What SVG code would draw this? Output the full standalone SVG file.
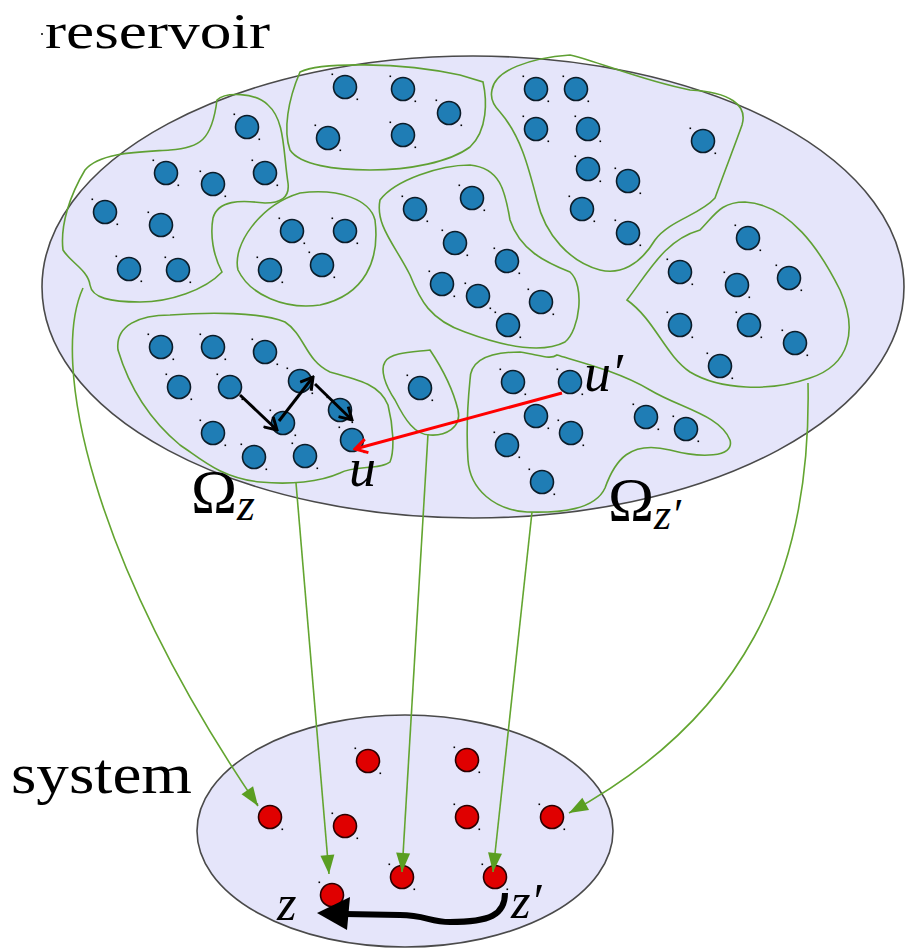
<svg xmlns="http://www.w3.org/2000/svg" xmlns:xlink="http://www.w3.org/1999/xlink" width="905" height="950" viewBox="0 0 905 950">
<style>
.ell{fill:#e5e5fa;stroke:#4a4a4a;stroke-width:1.6}
.cl{fill:none;stroke:#5fa033;stroke-width:1.6}
.con{fill:none;stroke:#63a530;stroke-width:1.6}
.lbl{font-family:"Liberation Serif","DejaVu Serif",serif;fill:#000}
.it{font-style:italic}
</style>
<defs>
<g id="b">
<circle r="11.5" fill="#1f7db5" stroke="#0c1c28" stroke-width="1.6"/>
<rect x="-13.5" y="-13.5" width="1.6" height="1.6" fill="#000"/>
<rect x="11.5" y="11.5" width="1.6" height="1.6" fill="#000"/>
</g>
<g id="r">
<circle r="11.5" fill="#e00000" stroke="#2a0000" stroke-width="1.6"/>
<rect x="-13.5" y="-13.5" width="1.6" height="1.6" fill="#000"/>
<rect x="11.5" y="11.5" width="1.6" height="1.6" fill="#000"/>
</g>
<marker id="ga" markerUnits="userSpaceOnUse" markerWidth="22" markerHeight="16" viewBox="-20 -8 22 16" refX="0" refY="0" orient="auto">
<path d="M0,0 L-19,-7 L-19,7 Z" fill="#5a9e22"/>
</marker>
<marker id="ka" markerUnits="userSpaceOnUse" markerWidth="16" markerHeight="16" viewBox="-14 -8 16 16" refX="0" refY="0" orient="auto">
<path d="M-12,-7 L0,0 L-12,7" fill="none" stroke="#000" stroke-width="3"/>
</marker>
<marker id="ra" markerUnits="userSpaceOnUse" markerWidth="16" markerHeight="16" viewBox="-14 -8 16 16" refX="0" refY="0" orient="auto">
<path d="M-12,-7 L0,0 L-12,7" fill="none" stroke="#ff0000" stroke-width="3"/>
</marker>
</defs>
<rect width="905" height="950" fill="#fff"/>

<g id="reservoir">
<ellipse class="ell" cx="473" cy="287" rx="431" ry="231"/>
<text class="lbl" x="45" y="48" font-size="51" textLength="225" lengthAdjust="spacingAndGlyphs">reservoir</text>
<circle cx="42" cy="34" r="1" fill="#000"/>
</g>

<g id="system">
<ellipse class="ell" cx="405" cy="831" rx="208" ry="116"/>
<text class="lbl" x="11" y="793" font-size="56" textLength="181" lengthAdjust="spacingAndGlyphs">system</text>
</g>

<g id="clusterA">
<path class="cl" d="M217,100 C225,92 255,92 268,105 C285,120 283,150 288,183 C290,198 280,203 265,203 C240,200 218,200 213,218 C210,235 213,255 222,272 C205,290 170,302 140,302 C110,302 92,298 90,285 C88,270 70,262 63,250 C60,225 70,195 85,170 C100,152 140,152 170,150 C200,148 212,140 217,100 Z"/>
<use xlink:href="#b" x="247" y="127"/><use xlink:href="#b" x="166" y="173"/><use xlink:href="#b" x="213" y="184"/><use xlink:href="#b" x="265" y="173"/><use xlink:href="#b" x="105" y="212"/><use xlink:href="#b" x="161" y="225"/><use xlink:href="#b" x="129" y="269"/><use xlink:href="#b" x="178" y="270"/>
</g>
<g id="clusterB">
<path class="cl" d="M300,72 C320,62 400,62 460,75 L483,82 C487,100 488,130 470,147 C450,162 410,170 370,170 C335,170 300,165 290,150 C283,130 288,100 300,72 Z"/>
<use xlink:href="#b" x="345" y="87"/><use xlink:href="#b" x="403" y="89"/><use xlink:href="#b" x="449" y="113"/><use xlink:href="#b" x="328" y="138"/><use xlink:href="#b" x="403" y="135"/>
</g>
<g id="clusterC">
<path class="cl" d="M300,193 C340,188 370,200 375,220 C380,260 365,295 320,305 C285,310 250,295 238,270 C232,245 260,205 300,193 Z"/>
<use xlink:href="#b" x="292" y="231"/><use xlink:href="#b" x="345" y="231"/><use xlink:href="#b" x="270" y="270"/><use xlink:href="#b" x="322" y="265"/>
</g>
<g id="clusterD">
<path class="cl" d="M380,200 C395,180 440,165 470,165 C500,168 505,190 510,220 C520,250 545,262 570,272 C585,285 580,330 565,342 C540,355 500,345 465,332 C430,320 420,300 410,275 C395,245 375,225 380,200 Z"/>
<use xlink:href="#b" x="415" y="209"/><use xlink:href="#b" x="472" y="198"/><use xlink:href="#b" x="455" y="243"/><use xlink:href="#b" x="507" y="261"/><use xlink:href="#b" x="442" y="284"/><use xlink:href="#b" x="478" y="296"/><use xlink:href="#b" x="541" y="302"/><use xlink:href="#b" x="508" y="325"/>
</g>
<g id="clusterE">
<path class="cl" d="M492,90 C495,70 530,58 570,55 C600,62 640,80 690,90 C730,92 748,105 742,125 C735,145 725,170 715,198 C700,215 670,220 655,240 C640,265 620,275 600,270 C570,262 545,235 537,200 C528,165 520,135 500,112 C493,105 490,98 492,90 Z"/>
<use xlink:href="#b" x="536" y="89"/><use xlink:href="#b" x="576" y="89"/><use xlink:href="#b" x="536" y="129"/><use xlink:href="#b" x="588" y="129"/><use xlink:href="#b" x="588" y="169"/><use xlink:href="#b" x="628" y="181"/><use xlink:href="#b" x="582" y="209"/><use xlink:href="#b" x="628" y="233"/><use xlink:href="#b" x="703" y="141"/>
</g>
<g id="clusterF">
<path class="cl" d="M627,300 C650,270 665,240 700,230 C715,215 720,202 745,202 C790,205 820,250 840,290 C858,330 850,365 810,378 C770,392 720,390 690,372 C665,355 655,320 627,300 Z"/>
<use xlink:href="#b" x="748" y="238"/><use xlink:href="#b" x="680" y="272"/><use xlink:href="#b" x="737" y="285"/><use xlink:href="#b" x="789" y="278"/><use xlink:href="#b" x="680" y="325"/><use xlink:href="#b" x="749" y="325"/><use xlink:href="#b" x="795" y="343"/><use xlink:href="#b" x="720" y="366"/>
</g>
<g id="clusterG">
<path class="cl" d="M118,350 C115,325 140,315 170,315 C210,312 260,312 285,322 C305,335 305,360 330,372 C360,380 380,385 388,405 C393,425 395,450 390,462 C380,470 355,465 340,473 C320,482 290,485 260,482 C220,478 200,458 180,445 C150,420 130,390 118,350 Z"/>
<use xlink:href="#b" x="161" y="347"/><use xlink:href="#b" x="213" y="347"/><use xlink:href="#b" x="265" y="352"/><use xlink:href="#b" x="179" y="387"/><use xlink:href="#b" x="230" y="387"/><use xlink:href="#b" x="300" y="381"/><use xlink:href="#b" x="283" y="423"/><use xlink:href="#b" x="340" y="410"/><use xlink:href="#b" x="213" y="433"/><use xlink:href="#b" x="254" y="457"/><use xlink:href="#b" x="305" y="456"/><use xlink:href="#b" x="352" y="440"/>
<text class="lbl" x="191" y="512" font-size="62">Ω<tspan class="it" font-size="46" dy="8">z</tspan></text>
<text class="lbl it" x="349" y="486" font-size="54">u</text>
</g>
<g id="clusterH">
<path class="cl" d="M385,362 C390,352 415,352 430,350 C440,365 452,385 458,410 C462,428 445,436 430,435 C415,435 405,420 395,400 C385,385 380,370 385,362 Z"/>
<use xlink:href="#b" x="420" y="388"/>
</g>
<g id="clusterI">
<path class="cl" d="M470,380 C470,360 490,352 520,352 C540,355 550,360 557,355 C580,362 620,372 650,390 C680,408 720,415 730,440 C735,458 700,458 670,450 C630,440 615,460 605,488 C595,510 560,513 527,512 C495,510 470,490 468,460 C466,430 468,400 470,380 Z"/>
<use xlink:href="#b" x="513" y="382"/><use xlink:href="#b" x="570" y="382"/><use xlink:href="#b" x="536" y="416"/><use xlink:href="#b" x="571" y="433"/><use xlink:href="#b" x="507" y="445"/><use xlink:href="#b" x="542" y="482"/><use xlink:href="#b" x="646" y="417"/><use xlink:href="#b" x="686" y="429"/>
<text class="lbl" x="608" y="520" font-size="62">Ω<tspan class="it" font-size="44" dy="9">z′</tspan></text>
<text class="lbl it" x="584" y="391" font-size="54">u′</text>
</g>

<g id="sysnodes">
<use xlink:href="#r" x="368" y="761"/><use xlink:href="#r" x="467" y="760"/><use xlink:href="#r" x="270" y="817"/><use xlink:href="#r" x="345" y="826"/><use xlink:href="#r" x="467" y="817"/><use xlink:href="#r" x="552" y="817"/><use xlink:href="#r" x="402" y="877"/><use xlink:href="#r" x="495" y="877"/><use xlink:href="#r" x="332" y="895"/>
<text class="lbl it" x="277" y="920" font-size="50">z</text>
<text class="lbl it" x="511" y="918" font-size="50">z′</text>
</g>

<g id="connectors">
<path class="con" d="M83,288 C50,360 90,560 258,806" marker-end="url(#ga)"/>
<path class="con" d="M296,483 L329,874" marker-end="url(#ga)"/>
<path class="con" d="M428,434 L402,872" marker-end="url(#ga)"/>
<path class="con" d="M532,512 L493,872" marker-end="url(#ga)"/>
<path class="con" d="M808,383 C812,580 740,720 569,813" marker-end="url(#ga)"/>
<path d="M240,395 L277,430" stroke="#000" stroke-width="3" fill="none" marker-end="url(#ka)"/>
<path d="M279,421 L313,377" stroke="#000" stroke-width="3" fill="none" marker-end="url(#ka)"/>
<path d="M315,384 L352,420" stroke="#000" stroke-width="3" fill="none" marker-end="url(#ka)"/>
<path d="M562,393 L355,449" stroke="#ff0000" stroke-width="3" fill="none" marker-end="url(#ra)"/>
<path d="M505,893 C505,915 490,922 450,922 C430,922 425,915 400,915 L345,914" stroke="#000" stroke-width="6" fill="none"/>
<path d="M317,913 L350,897 L347,930 Z" fill="#000"/>
</g>
</svg>
